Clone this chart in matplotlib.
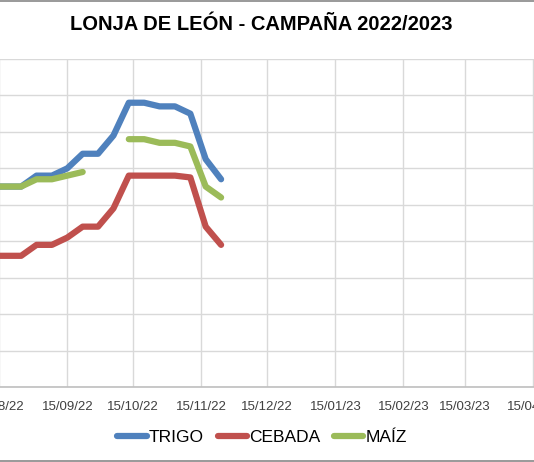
import datetime as dt
import numpy as np
import matplotlib
matplotlib.use("Agg")
import matplotlib.pyplot as plt
from matplotlib.patches import Rectangle

plt.rcParams["font.family"] = ["Liberation Sans", "DejaVu Sans"]

# weekly quotations (EUR/t)
fechas = [dt.date(2022, 8, 4) + dt.timedelta(weeks=i) for i in range(17)]
trigo = [310, 310, 310, 310, 316, 316, 320, 328, 328, 338, 356, 356, 354, 354, 350, 325, 314]
cebada = [272, 272, 272, 272, 278, 278, 282, 288, 288, 298, 316, 316, 316, 316, 315, 288, 278]
maiz = [310, 310, 310, 310, 314, 314, 316, 318, np.nan, np.nan, 336, 336, 334, 334, 332, 310, 304]

ticks = [dt.date(2022, m, 15) for m in range(7, 13)] + [dt.date(2023, m, 15) for m in range(1, 7)]
tick_labels = [d.strftime("%d/%m/%y") for d in ticks]

W, H = 534, 462
fig = plt.figure(figsize=(W / 100, H / 100), dpi=100)

# axes placed so the plot area runs past both edges (the reference is a crop)
x0 = dt.date(2022, 7, 15)
x1 = dt.date(2023, 6, 15)
ref = dt.date(2022, 9, 15)
px_ref, px_day = 67.3, 2.197
left_px = px_ref - px_day * (ref - x0).days
right_px = px_ref + px_day * (x1 - ref).days
top_px, bot_px = 59, 387
ax = fig.add_axes([left_px / W, 1 - bot_px / H, (right_px - left_px) / W, (bot_px - top_px) / H])

kw = dict(lw=4.5, solid_joinstyle="round", solid_capstyle="round")
ax.plot(fechas, trigo, color="#4F81BD", label="TRIGO", **kw)
ax.plot(fechas, cebada, color="#C0504D", label="CEBADA", **kw)
ax.plot(fechas, maiz, color="#9BBB59", label="MAÍZ", **kw)

ax.set_xlim(x0, x1)
ax.set_ylim(200, 380)
ax.set_yticks(np.arange(200, 381, 20))
ax.set_xticks(ticks)
ax.set_xticklabels(tick_labels, fontsize=9.5, color="#404040")
ax.tick_params(axis="x", length=0, pad=10)
ax.tick_params(axis="y", length=0, labelleft=False)
ax.grid(True, color="#d9d9d9", lw=1)
ax.set_axisbelow(True)
for s in ["top", "right", "left"]:
    ax.spines[s].set_visible(False)
ax.spines["bottom"].set_color("#bfbfbf")
ax.spines["bottom"].set_linewidth(1.2)

fig.text(261 / W, 1 - 25 / H, "LONJA DE LEÓN - CAMPAÑA 2022/2023",
         ha="center", va="center", fontsize=14.5, fontweight="bold")

fig.legend(loc="center", bbox_to_anchor=(262 / W, 1 - 437 / H), ncol=3, frameon=False,
           fontsize=12.5, handlelength=1.7, handletextpad=0.1, columnspacing=0.8)

# chart border
fig.patches.append(Rectangle((-0.05, 1.5 / H), 1.1, 1 - 2.0 / H, transform=fig.transFigure,
                             fill=False, edgecolor="#888888", lw=1.2))

fig.savefig("out.png", dpi=100)
